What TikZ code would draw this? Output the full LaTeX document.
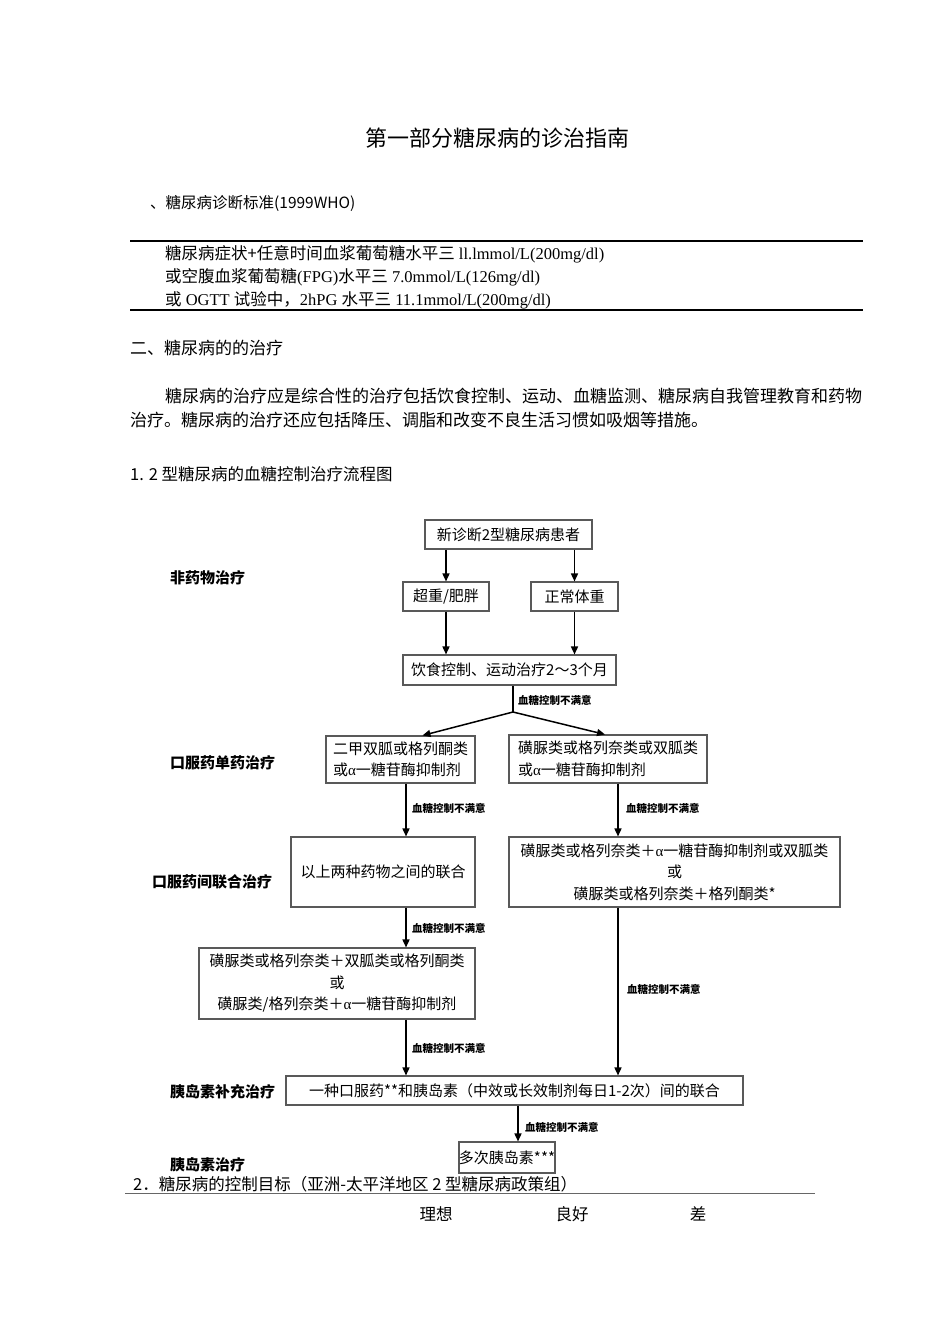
\documentclass[tikz,border=0pt]{standalone}
\usepackage{fontspec}
\setmainfont{Liberation Serif}
\newfontfamily\cjk{Noto Sans CJK SC}
\usetikzlibrary{arrows.meta}
\begin{document}
\begin{tikzpicture}[x=1pt,y=-1pt,
  box/.style={draw=black!65, line width=1.1pt, inner sep=0pt, align=center, font=\cjk\fontsize{15}{21.5}\selectfont},
  arr/.style={-{Triangle[length=8pt,width=7pt]}, line width=1.5pt},
  cond/.style={anchor=west, inner sep=0pt, font=\cjk\bfseries\fontsize{10.5}{12}\selectfont},
  stage/.style={anchor=west, inner sep=0pt, font=\cjk\bfseries\fontsize{15}{18}\selectfont},
  txt/.style={anchor=west, inner sep=0pt, font=\fontsize{16.5}{20}\selectfont}]
\useasboundingbox (0,0) rectangle (950,1344);
% heading and criteria
\node[inner sep=0pt, font=\cjk\fontsize{22}{26}\selectfont] (title) at (497,138) {第一部分糖尿病的诊治指南};
\node[txt, font=\cjk\fontsize{15.5}{20}\selectfont] (sec1) at (150,203) {、糖尿病诊断标准(1999WHO)};
\draw[line width=1.2pt] (130,241) -- (863,241);
\node[txt] (crit1) at (165,254) {{\cjk 糖尿病症状+任意时间血浆葡萄糖水平三} ll.lmmol/L(200mg/dl)};
\node[txt] (crit2) at (165,277) {{\cjk 或空腹血浆葡萄糖}(FPG){\cjk 水平三} 7.0mmol/L(126mg/dl)};
\node[txt] (crit3) at (165,300) {{\cjk 或} OGTT {\cjk 试验中，}2hPG {\cjk 水平三} 11.1mmol/L(200mg/dl)};
\draw[line width=1.2pt] (130,310) -- (863,310);
% treatment text
\node[txt, font=\cjk\fontsize{17}{20}\selectfont] (sec2) at (130,348) {二、糖尿病的的治疗};
\node[txt, font=\cjk\fontsize{17}{20}\selectfont] (para1) at (165,396) {糖尿病的治疗应是综合性的治疗包括饮食控制、运动、血糖监测、糖尿病自我管理教育和药物};
\node[txt, font=\cjk\fontsize{17}{20}\selectfont] (para2) at (130,420) {治疗。糖尿病的治疗还应包括降压、调脂和改变不良生活习惯如吸烟等措施。};
\node[txt, font=\cjk\fontsize{16.5}{20}\selectfont] (sub1) at (130,474) {1. 2 型糖尿病的血糖控制治疗流程图};
% flow chart
\node[box, minimum width=167pt, minimum height=29pt] (new) at (508.5,534.5) {新诊断2型糖尿病患者};
\node[box, minimum width=86pt, minimum height=29pt] (over) at (446,596.5) {超重/肥胖};
\node[box, minimum width=87pt, minimum height=29pt] (normal) at (574.5,596.5) {正常体重};
\node[box, minimum width=213pt, minimum height=30pt] (diet) at (509.5,670) {饮食控制、运动治疗2～3个月};
\node[box, align=left, minimum width=149pt, minimum height=47pt] (mono1) at (400.5,759.5) {二甲双胍或格列酮类\\或{\rmfamily α}一糖苷酶抑制剂};
\node[box, align=left, minimum width=198pt, minimum height=48pt] (mono2) at (608,759) {磺脲类或格列奈类或双胍类\\或{\rmfamily α}一糖苷酶抑制剂};
\node[box, minimum width=184pt, minimum height=70pt] (comb1) at (383,872) {以上两种药物之间的联合};
\node[box, minimum width=331pt, minimum height=70pt] (comb2) at (674.5,872) {磺脲类或格列奈类＋{\rmfamily α}一糖苷酶抑制剂或双胍类\\或\\磺脲类或格列奈类＋格列酮类*};
\node[box, minimum width=276pt, minimum height=71pt] (triple) at (337,983.5) {磺脲类或格列奈类＋双胍类或格列酮类\\或\\磺脲类/格列奈类＋{\rmfamily α}一糖苷酶抑制剂};
\node[box, minimum width=457pt, minimum height=29pt] (insul) at (514.5,1090.5) {一种口服药**和胰岛素（中效或长效制剂每日1-2次）间的联合};
\node[box, minimum width=88pt, minimum height=31pt] (multi) at (507,1157.5) {多次胰岛素***};
\coordinate (fork) at (513,712);
\draw[arr] (over.north |- new.south) -- (over.north);
\draw[arr] (normal.north |- new.south) -- (normal.north);
\draw[arr] (over.south) -- (over.south |- diet.north);
\draw[arr] (normal.south) -- (normal.south |- diet.north);
\draw[line width=1.5pt] (diet.south -| fork) -- (fork);
\draw[arr] (fork) -- ([xshift=22pt]mono1.north);
\draw[arr] (fork) -- ([xshift=-3pt]mono2.north);
\draw[arr] ([xshift=5.5pt]mono1.south) -- ([xshift=5.5pt]mono1.south |- comb1.north);
\draw[arr] ([xshift=10pt]mono2.south) -- ([xshift=10pt]mono2.south |- comb2.north);
\draw[arr] ([xshift=23pt]comb1.south) -- ([xshift=23pt]comb1.south |- triple.north);
\draw[arr] ([xshift=69pt]triple.south) -- ([xshift=69pt]triple.south |- insul.north);
\draw[arr] ([xshift=-56.5pt]comb2.south) -- ([xshift=-56.5pt]comb2.south |- insul.north);
\draw[arr] ([xshift=3.5pt]insul.south) -- ([xshift=3.5pt]insul.south |- multi.north);
\node[cond] (c1) at (518,700) {血糖控制不满意};
\node[cond] (c2) at (412,808) {血糖控制不满意};
\node[cond] (c3) at (626,808) {血糖控制不满意};
\node[cond] (c4) at (412,928) {血糖控制不满意};
\node[cond] (c5) at (627,989) {血糖控制不满意};
\node[cond] (c6) at (412,1048) {血糖控制不满意};
\node[cond] (c7) at (525,1127) {血糖控制不满意};
\node[stage] (s1) at (170,578) {非药物治疗};
\node[stage] (s2) at (170,763) {口服药单药治疗};
\node[stage] (s3) at (152,882) {口服药间联合治疗};
\node[stage] (s4) at (170,1092) {胰岛素补充治疗};
\node[stage] (s5) at (170,1165) {胰岛素治疗};
% control targets
\node[txt, font=\cjk\fontsize{16.5}{20}\selectfont] (sub2) at (133,1184) {2．糖尿病的控制目标（亚洲-太平洋地区 2 型糖尿病政策组）};
\draw[black!60, line width=1pt] (125,1193) -- (815,1193);
\node[inner sep=0pt, font=\cjk\fontsize{16.5}{20}\selectfont] (ideal) at (436,1214) {理想};
\node[inner sep=0pt, font=\cjk\fontsize{16.5}{20}\selectfont] (good) at (572,1214) {良好};
\node[inner sep=0pt, font=\cjk\fontsize{16.5}{20}\selectfont] (poor) at (698,1214) {差};
\end{tikzpicture}
\end{document}
